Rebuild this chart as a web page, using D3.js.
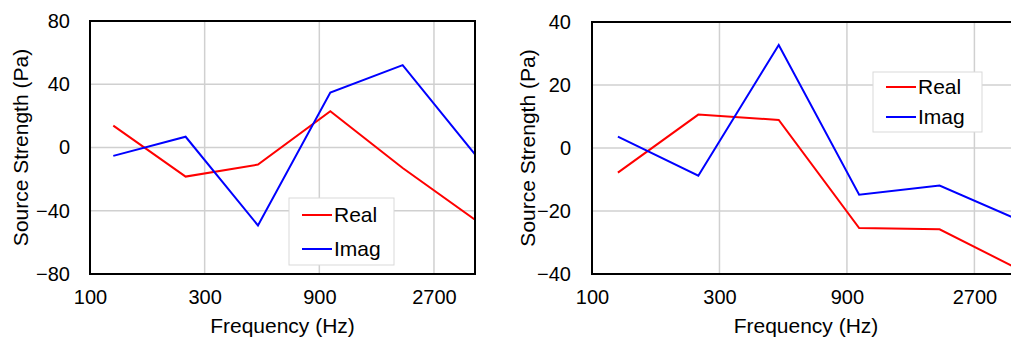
<!DOCTYPE html>
<html><head><meta charset="utf-8">
<script src="https://cdn.jsdelivr.net/npm/d3@7"></script>
<style>
html,body{margin:0;padding:0;background:#fff;}
svg{display:block;font-family:"Liberation Sans",Arial,sans-serif;}
</style></head>
<body>
<svg id="chart" width="1011" height="337"></svg>
<script>
const freqs = [125, 250, 500, 1000, 2000, 4000];
const xTicks = [100, 300, 900, 2700];
const leftReal = [13.8, -18.4, -10.8, 22.9, -13.0, -45.7];
const leftImag = [-5.3, 6.8, -49.3, 34.7, 52.1, -4.4];
const leftYTicks = [-80, -40, 0, 40, 80];
const rightReal = [-7.8, 10.6, 8.9, -25.4, -25.8, -38.7];
const rightImag = [3.6, -8.8, 32.7, -14.8, -11.9, -23.0];
const rightYTicks = [-40, -20, 0, 20, 40];
const seriesNames = ["Real", "Imag"];
const seriesColors = ["#ff0000", "#0000ff"];

const svg = d3.select("#chart");

function panel(cfg) {
  const g = svg.append("g");
  const x = d3.scaleLog().domain([100, 4000]).range([cfg.x0, cfg.x1]);
  const y = d3.scaleLinear().domain(cfg.yDomain).range([cfg.y1, cfg.y0]);
  const clipId = "clip" + cfg.id;
  svg.append("clipPath").attr("id", clipId).append("rect")
    .attr("x", cfg.x0).attr("y", cfg.y0).attr("width", cfg.x1 - cfg.x0).attr("height", cfg.y1 - cfg.y0);

  // grid
  g.append("g").selectAll("line").data(cfg.yTicks).join("line")
    .attr("x1", cfg.x0).attr("x2", cfg.x1).attr("y1", d => y(d)).attr("y2", d => y(d))
    .attr("stroke", "#d0d0d0").attr("stroke-width", 1.5);
  g.append("g").selectAll("line").data(xTicks).join("line")
    .attr("x1", d => x(d)).attr("x2", d => x(d)).attr("y1", cfg.y0).attr("y2", cfg.y1)
    .attr("stroke", "#d0d0d0").attr("stroke-width", 1.5);

  // axes via d3
  const yAxis = d3.axisLeft(y).tickValues(cfg.yTicks).tickSize(0).tickPadding(0).tickFormat(d3.format("d"));
  const ya = g.append("g").attr("transform", `translate(${cfg.yLabelX},0)`).call(yAxis);
  ya.select(".domain").remove();
  ya.selectAll("text").attr("font-size", 20).attr("fill", "#000").attr("font-family", "Liberation Sans, Arial, sans-serif");

  const xAxis = d3.axisBottom(x).tickValues(xTicks).tickSize(0).tickPadding(0).tickFormat(d3.format("d"));
  const xa = g.append("g").attr("transform", `translate(0,${cfg.y1 + 16})`).call(xAxis);
  xa.select(".domain").remove();
  xa.selectAll("text").attr("font-size", 20).attr("fill", "#000").attr("font-family", "Liberation Sans, Arial, sans-serif");

  // lines
  const line = d3.line().x((d, i) => x(freqs[i])).y(d => y(d));
  [cfg.real, cfg.imag].forEach((vals, k) => {
    g.append("path").datum(vals).attr("d", line)
      .attr("fill", "none").attr("stroke", seriesColors[k]).attr("stroke-width", 2)
      .attr("clip-path", `url(#${clipId})`);
  });

  // frame
  g.append("rect").attr("x", cfg.x0).attr("y", cfg.y0).attr("width", cfg.x1 - cfg.x0).attr("height", cfg.y1 - cfg.y0)
    .attr("fill", "none").attr("stroke", "#000").attr("stroke-width", 2);

  // titles
  g.append("text").attr("x", (cfg.x0 + Math.min(cfg.x1, 1011 + 9)) / 2).attr("y", 333)
    .attr("text-anchor", "middle").attr("font-size", 21).text("Frequency (Hz)");
  g.append("text").attr("transform", `translate(${cfg.yTitleX},${(cfg.y0 + cfg.y1) / 2}) rotate(-90)`)
    .attr("text-anchor", "middle").attr("dy", "0.35em").attr("font-size", 21).text("Source Strength (Pa)");

  // legend
  const L = cfg.legend;
  const lg = g.append("g");
  lg.append("rect").attr("x", L.x).attr("y", L.y).attr("width", L.w).attr("height", L.h)
    .attr("fill", "#fff").attr("stroke", "#d9d9d9").attr("stroke-width", 1);
  seriesNames.forEach((n, k) => {
    const yy = L.y + L.first + k * L.step;
    lg.append("line").attr("x1", L.x + 13).attr("x2", L.x + 43).attr("y1", yy).attr("y2", yy)
      .attr("stroke", seriesColors[k]).attr("stroke-width", 2);
    lg.append("text").attr("x", L.x + 45).attr("y", yy).attr("dy", "0.35em")
      .attr("font-size", 21).text(n);
  });
}

panel({id: "L", x0: 90, x1: 475, y0: 21, y1: 274, yDomain: [-80, 80], yTicks: leftYTicks,
  real: leftReal, imag: leftImag, yLabelX: 70, yTitleX: 21,
  legend: {x: 289, y: 198, w: 105, h: 67, first: 17, step: 34}});
panel({id: "R", x0: 592, x1: 1020, y0: 22, y1: 274, yDomain: [-40, 40], yTicks: rightYTicks,
  real: rightReal, imag: rightImag, yLabelX: 571, yTitleX: 528,
  legend: {x: 873, y: 72, w: 109, h: 60, first: 15, step: 30}});
</script>
</body></html>
